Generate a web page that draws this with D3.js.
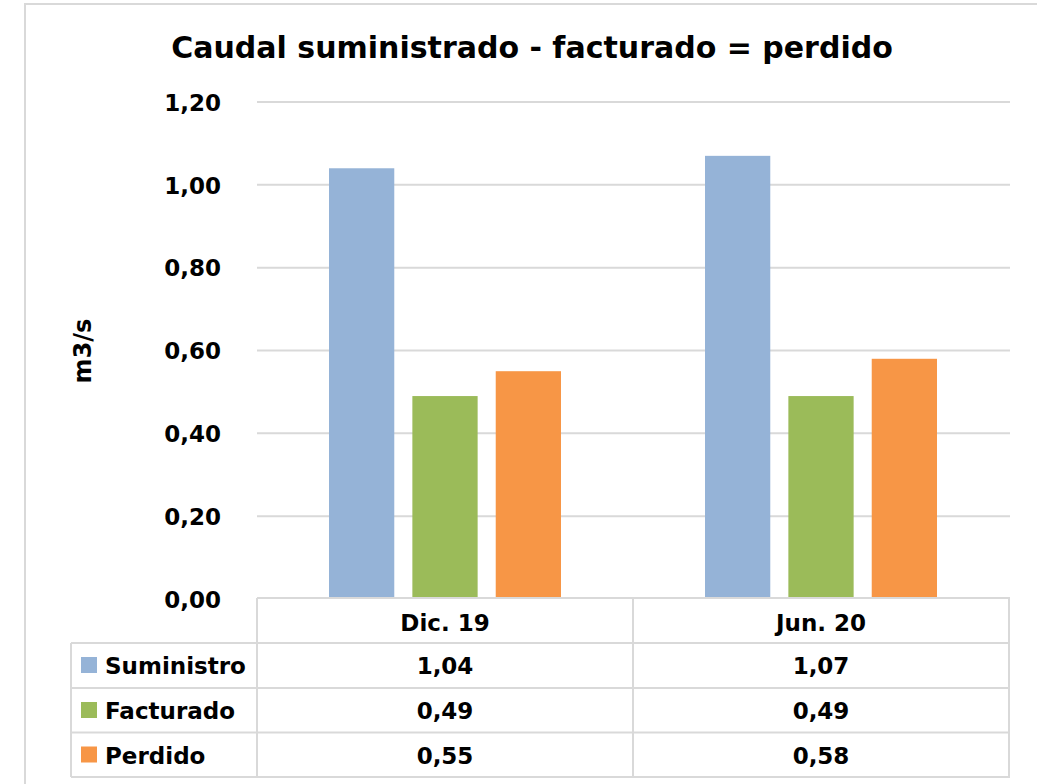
<!DOCTYPE html>
<html>
<head>
<meta charset="utf-8">
<script src="https://cdn.jsdelivr.net/npm/d3@7"></script>
<style>
html,body{margin:0;padding:0;background:#fff;}
svg{display:block;}
text{font-family:"DejaVu Sans",sans-serif;font-weight:bold;fill:#000;}
</style>
</head>
<body>
<svg id="chart" width="1037" height="784"></svg>
<script>
const categories = ["Dic. 19", "Jun. 20"];
const seriesNames = ["Suministro", "Facturado", "Perdido"];
const suministro = [1.04, 1.07];
const facturado = [0.49, 0.49];
const perdido = [0.55, 0.58];
const yTicks = [0, 0.2, 0.4, 0.6, 0.8, 1.0, 1.2];
const seriesColors = ["#95B3D7", "#9BBB59", "#F79646"];
const title = "Caudal suministrado - facturado = perdido";
const yLabel = "m3/s";

const seriesValues = [suministro, facturado, perdido];
const fmt = v => d3.format(".2f")(v).replace(".", ",");

const svg = d3.select("#chart");
const gridColor = "#D9D9D9";

// outer chart border
svg.append("rect").attr("x", 25).attr("y", 4).attr("width", 1040).attr("height", 800)
  .attr("fill", "#fff").attr("stroke", gridColor).attr("stroke-width", 2);

const x0 = d3.scaleBand().domain(categories).range([257, 1009]);
const x1 = d3.scaleBand().domain(seriesNames).range([72, 304]).paddingInner(0.217);
const y = d3.scaleLinear().domain([0, 1.2]).range([599, 102]);

// gridlines
svg.append("g").selectAll("line").data(yTicks.filter(t => t > 0)).join("line")
  .attr("x1", 257).attr("x2", 1010)
  .attr("y1", d => y(d)).attr("y2", d => y(d))
  .attr("stroke", gridColor).attr("stroke-width", 2);

// y axis labels
const yAxis = d3.axisLeft(y).tickValues(yTicks).tickFormat(fmt).tickSize(0).tickPadding(0);
const yg = svg.append("g").attr("transform", "translate(221,0)").call(yAxis);
yg.select(".domain").remove();
yg.selectAll("text").attr("font-size", 23).attr("font-family", "DejaVu Sans").attr("font-weight", "bold").attr("fill", "#000").attr("dy", "0.36em");

// bars
const groups = svg.append("g").selectAll("g").data(categories).join("g")
  .attr("transform", d => `translate(${x0(d)},0)`);
groups.selectAll("rect").data((d, i) => seriesNames.map((s, j) => ({s, v: seriesValues[j][i], j})))
  .join("rect")
  .attr("x", d => x1(d.s)).attr("width", x1.bandwidth())
  .attr("y", d => y(d.v)).attr("height", d => y(0) - y(d.v))
  .attr("fill", d => seriesColors[d.j]);

// title
svg.append("text").attr("x", 532).attr("y", 58).attr("text-anchor", "middle")
  .attr("font-size", 30).text(title);

// y label
svg.append("text").attr("transform", "translate(91,351) rotate(-90)")
  .attr("text-anchor", "middle").attr("font-size", 24).text(yLabel);

// data table
const rowTop = [598, 643, 688, 732.5, 777];
const t = svg.append("g");
const lineAttr = sel => sel.attr("stroke", gridColor).attr("stroke-width", 2).attr("fill", "none");
t.append("line").attr("x1", 257).attr("x2", 1010).attr("y1", rowTop[0]).attr("y2", rowTop[0]).call(lineAttr);
rowTop.slice(1).forEach(yy => {
  t.append("line").attr("x1", 71).attr("x2", 1010).attr("y1", yy).attr("y2", yy).call(lineAttr);
});
t.append("line").attr("x1", 71).attr("x2", 71).attr("y1", rowTop[1]).attr("y2", rowTop[4]).call(lineAttr);
[257, 633, 1009].forEach(xx => {
  t.append("line").attr("x1", xx).attr("x2", xx).attr("y1", rowTop[0]).attr("y2", rowTop[4]).call(lineAttr);
});
t.selectAll("text.hdr").data(categories).join("text").attr("class", "hdr")
  .attr("x", d => x0(d) + x0.bandwidth() / 2).attr("y", rowTop[0] + 33)
  .attr("text-anchor", "middle").attr("font-size", 23).text(d => d);
seriesNames.forEach((s, j) => {
  const top = rowTop[j + 1];
  t.append("rect").attr("x", 81).attr("y", top + 14).attr("width", 16).attr("height", 16).attr("fill", seriesColors[j]);
  t.append("text").attr("x", 105).attr("y", top + 31).attr("font-size", 23).text(s);
  categories.forEach((c, i) => {
    t.append("text").attr("x", x0(c) + x0.bandwidth() / 2).attr("y", top + 31)
      .attr("text-anchor", "middle").attr("font-size", 23).text(fmt(seriesValues[j][i]));
  });
});
</script>
</body>
</html>
